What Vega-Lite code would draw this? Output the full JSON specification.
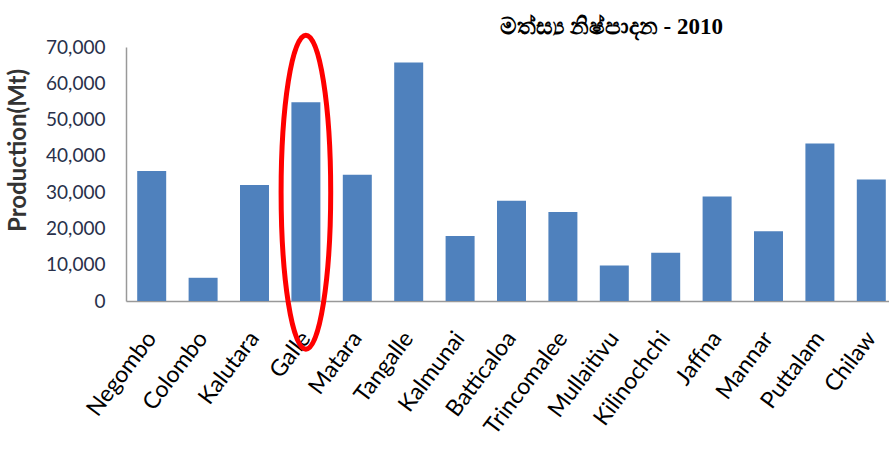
{
  "$schema": "https://vega.github.io/schema/vega-lite/v6.json",
  "width": 763,
  "height": 254,
  "autosize": {"type": "none"},
  "padding": {"left": 126, "top": 47, "right": 0, "bottom": 163},
  "background": "white",
  "title": {
    "text": "මත්ස්‍ය නිෂ්පාදන  - 2010",
    "font": "Liberation Serif",
    "fontSize": 23,
    "fontWeight": "bold",
    "color": "#000000",
    "anchor": "start",
    "frame": "group",
    "dx": 374,
    "offset": -14
  },
  "data": {
    "values": [
      {"district": "Negombo", "production": 35800},
      {"district": "Colombo", "production": 6400},
      {"district": "Kalutara", "production": 32000},
      {"district": "Galle", "production": 54800},
      {"district": "Matara", "production": 34800},
      {"district": "Tangalle", "production": 65700},
      {"district": "Kalmunai", "production": 17900},
      {"district": "Batticaloa", "production": 27600},
      {"district": "Trincomalee", "production": 24500},
      {"district": "Mullaitivu", "production": 9800},
      {"district": "Kilinochchi", "production": 13300},
      {"district": "Jaffna", "production": 28800},
      {"district": "Mannar", "production": 19200},
      {"district": "Puttalam", "production": 43400},
      {"district": "Chilaw", "production": 33500}
    ]
  },
  "config": {
    "view": {"stroke": null},
    "axis": {"grid": false, "ticks": false}
  },
  "encoding": {
    "x": {
      "field": "district",
      "type": "nominal",
      "sort": null,
      "scale": {"range": [0, 771], "paddingInner": 0.436, "paddingOuter": 0.218},
      "axis": {
        "title": null,
        "labelAngle": -53,
        "labelFont": "Lato",
        "labelFontSize": 23,
        "labelColor": "#000000",
        "labelPadding": 33,
        "domainColor": "#999999",
        "domainWidth": 1.5
      }
    }
  },
  "layer": [
    {
      "mark": {"type": "bar", "color": "#4f81bd"},
      "encoding": {
        "y": {
          "field": "production",
          "type": "quantitative",
          "scale": {"domain": [0, 70000], "nice": false},
          "axis": {
            "title": "Production(Mt)",
            "titleFont": "Lato",
            "titleFontSize": 24,
            "titleFontWeight": "bold",
            "titleColor": "#333333",
            "titlePadding": 15,
            "titleY": 103,
            "values": [0, 10000, 20000, 30000, 40000, 50000, 60000, 70000],
            "format": ",d",
            "labelFont": "Lato",
            "labelFontSize": 19,
            "labelColor": "#28304a",
            "labelPadding": 21,
            "domainColor": "#999999",
            "domainWidth": 1.5
          }
        }
      }
    },
    {
      "transform": [{"filter": {"field": "district", "equal": "Galle"}}],
      "mark": {
        "type": "point",
        "shape": "M0,-1C0.0873,-1,0.158,-0.5523,0.158,0C0.158,0.5523,0.0873,1,0,1C-0.0873,1,-0.158,0.5523,-0.158,0C-0.158,-0.5523,-0.0873,-1,0,-1Z",
        "size": 98596,
        "filled": false,
        "stroke": "#ff0000",
        "strokeWidth": 5,
        "opacity": 1
      },
      "encoding": {
        "y": {
          "datum": 30000,
          "type": "quantitative",
          "scale": {"domain": [0, 70000], "nice": false},
          "axis": {
            "title": "Production(Mt)",
            "titleFont": "Lato",
            "titleFontSize": 24,
            "titleFontWeight": "bold",
            "titleColor": "#333333",
            "titlePadding": 15,
            "titleY": 103,
            "values": [0, 10000, 20000, 30000, 40000, 50000, 60000, 70000],
            "format": ",d",
            "labelFont": "Lato",
            "labelFontSize": 19,
            "labelColor": "#28304a",
            "labelPadding": 21,
            "domainColor": "#999999",
            "domainWidth": 1.5
          }
        }
      }
    }
  ]
}
